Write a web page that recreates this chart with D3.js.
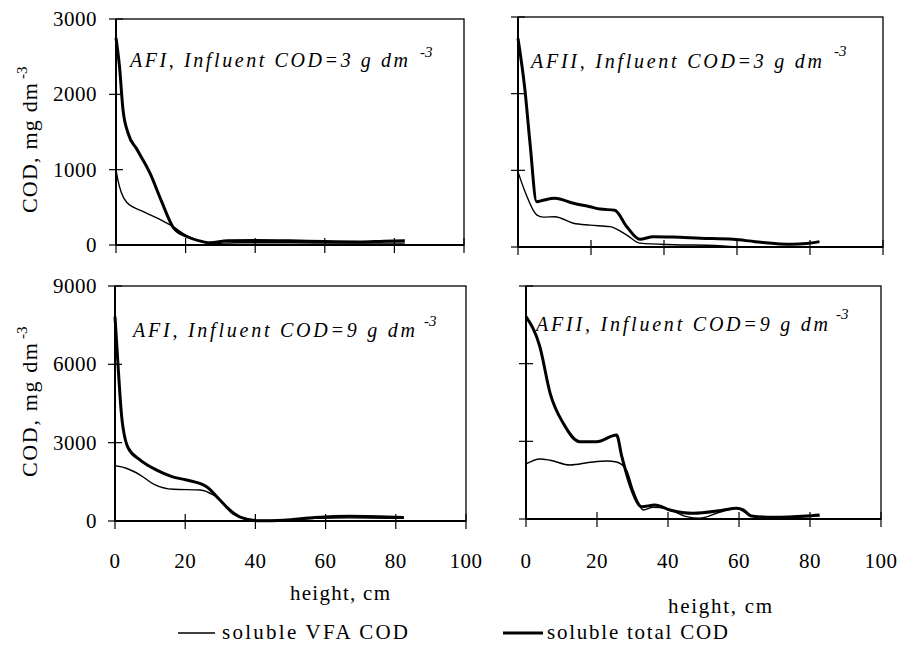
<!DOCTYPE html>
<html>
<head>
<meta charset="utf-8">
<script src="https://cdn.jsdelivr.net/npm/d3@7"></script>
<style>
  body { margin: 0; background: #fff; }
</style>
</head>
<body>
<div id="chart"></div>
<script>
const width = 901;
const height = 648;

// pick the first serif face that is actually installed
function pickSerif() {
  const ctx = document.createElement("canvas").getContext("2d");
  const sample = "mmmmmmmmmmlli0123456789WwQ";
  ctx.font = "40px monospace";
  const base = ctx.measureText(sample).width;
  const names = ["Liberation Serif", "DejaVu Serif", "Noto Serif", "Times New Roman", "FreeSerif", "Tinos"];
  for (const n of names) {
    ctx.font = "40px '" + n + "', monospace";
    if (ctx.measureText(sample).width !== base) return "'" + n + "', serif";
  }
  return "serif";
}
const serif = pickSerif();

// heights (cm) and COD values (mg dm-3)
const afi3TotalH = [0, 1, 2, 3.5, 6, 9.8, 13, 16.5, 20, 24, 27, 32, 40, 50, 60, 70, 77, 83];
const afi3Total  = [2750, 2370, 1800, 1480, 1270, 950, 590, 230, 120, 55, 30, 55, 60, 55, 45, 40, 50, 55];
const afi3VfaH   = [0, 0.5, 1.5, 3, 8, 13, 16.5, 20, 24, 27, 35, 50, 65, 83];
const afi3Vfa    = [1000, 870, 700, 570, 440, 330, 240, 130, 55, 20, 30, 30, 25, 25];

const afii3TotalH = [0, 1.9, 3.3, 5.1, 6.9, 10.1, 15.2, 19.7, 22.5, 26.5, 29.8, 33.4, 37, 42.5, 50, 59, 65, 75, 79, 82.6];
const afii3Total  = [2720, 2050, 1350, 590, 610, 635, 570, 525, 495, 480, 265, 100, 135, 130, 115, 100, 70, 35, 45, 70];
const afii3VfaH   = [0, 2.1, 5.1, 7, 10.1, 15.2, 19.7, 25.2, 29.8, 33.4, 42.5, 54, 59, 70, 83];
const afii3Vfa    = [980, 700, 420, 390, 395, 310, 285, 265, 155, 50, 30, 20, 5, 5, 5];

const afi9TotalH = [0, 0.95, 1.9, 3.8, 7.2, 11.9, 16.2, 20.4, 26.1, 29.9, 33.7, 37.5, 41.3, 48, 57, 66.7, 82.3];
const afi9Total  = [7825, 5780, 4000, 2785, 2335, 1950, 1700, 1570, 1315, 805, 295, 65, 10, 30, 130, 180, 130];
const afi9VfaH   = [0, 3.2, 7.2, 11, 16.7, 24.3, 28, 31.9, 35.7, 40.5, 48, 57, 66.7, 82.3];
const afi9Vfa    = [2120, 2020, 1760, 1415, 1215, 1190, 995, 550, 165, 25, 20, 100, 120, 100];

const afii9TotalH = [0, 3.9, 6.8, 10.5, 15.2, 19.9, 25.5, 27, 29.8, 32.6, 36.3, 40.5, 47.1, 55, 59.3, 61.2, 63.5, 69.6, 79, 82.7];
const afii9Total  = [7815, 6655, 4855, 3695, 2985, 2985, 3245, 2405, 1120, 475, 540, 350, 220, 330, 413, 350, 115, 65, 115, 155];
const afii9VfaH   = [0, 3.9, 6.8, 12.4, 18.1, 22.8, 25.5, 28.3, 30.2, 33, 35.8, 39.6, 45.2, 48.9, 54.5, 59.3, 63.5, 69.6, 79, 82.7];
const afii9Vfa    = [2125, 2320, 2270, 2085, 2190, 2240, 2200, 1890, 1120, 350, 455, 400, 90, 30, 260, 415, 115, 30, 90, 120];

const xTicks = [0, 20, 40, 60, 80, 100];
const yTicks3 = [0, 1000, 2000, 3000];
const yTicks9 = [0, 3000, 6000, 9000];
const titles = ["AFI, Influent COD=3 g dm", "AFII, Influent COD=3 g dm", "AFI, Influent COD=9 g dm", "AFII, Influent COD=9 g dm"];
const legendLabels = ["soluble VFA COD", "soluble total COD"];

const panels = [
  { box: [116, 464, 19, 245], ymax: 3000, ticks: yTicks3, yLabels: true, xLabels: false,
    vfa: [afi3VfaH, afi3Vfa], total: [afi3TotalH, afi3Total], title: titles[0],
    titlePos: [130, 67, 278], supPos: [420, 57] },
  { box: [518, 883, 17, 247], ymax: 3000, ticks: yTicks3, yLabels: false, xLabels: false,
    vfa: [afii3VfaH, afii3Vfa], total: [afii3TotalH, afii3Total], title: titles[1],
    titlePos: [531, 68, 291], supPos: [834, 56] },
  { box: [115, 466, 286, 521], ymax: 9000, ticks: yTicks9, yLabels: true, xLabels: true,
    vfa: [afi9VfaH, afi9Vfa], total: [afi9TotalH, afi9Total], title: titles[2],
    titlePos: [133, 337, 282], supPos: [424, 326] },
  { box: [526, 881, 286, 519], ymax: 9000, ticks: yTicks9, yLabels: false, xLabels: true,
    vfa: [afii9VfaH, afii9Vfa], total: [afii9TotalH, afii9Total], title: titles[3],
    titlePos: [536, 331, 292], supPos: [836, 319] }
];

const svg = d3.select("#chart").append("svg")
  .attr("width", width)
  .attr("height", height)
  .style("font-family", serif);

panels.forEach(function(p) {
  const [x0, x1, y0, y1] = p.box;
  const x = d3.scaleLinear().domain([0, 100]).range([x0, x1]);
  const y = d3.scaleLinear().domain([0, p.ymax]).range([y1, y0]);
  const g = svg.append("g");

  // frame
  g.append("rect")
    .attr("x", x0).attr("y", y0)
    .attr("width", x1 - x0).attr("height", y1 - y0)
    .attr("fill", "none").attr("stroke", "#000").attr("stroke-width", 1.3);

  // left and bottom axes are drawn heavier
  g.append("line").attr("x1", x0).attr("x2", x0).attr("y1", y0).attr("y2", y1)
    .attr("stroke", "#000").attr("stroke-width", 2);
  g.append("line").attr("x1", x0).attr("x2", x1).attr("y1", y1).attr("y2", y1)
    .attr("stroke", "#000").attr("stroke-width", 2);

  // y ticks cross the axis
  g.selectAll(".ytick").data(p.ticks).join("line")
    .attr("x1", x0 - 7).attr("x2", x0 + 7)
    .attr("y1", d => y(d)).attr("y2", d => y(d))
    .attr("stroke", "#000").attr("stroke-width", 1.2);

  g.selectAll(".xtick").data(xTicks).join("line")
    .attr("x1", d => x(d)).attr("x2", d => x(d))
    .attr("y1", y1 - 7).attr("y2", y1 + 8)
    .attr("stroke", "#000").attr("stroke-width", 1.2);

  if (p.yLabels) {
    g.selectAll(".ylab").data(p.ticks).join("text")
      .attr("x", 97).attr("y", d => y(d))
      .attr("dy", "0.34em")
      .attr("text-anchor", "end")
      .attr("font-size", 21)
      .attr("letter-spacing", 0.5)
      .text(d => d);
  }

  if (p.xLabels) {
    g.selectAll(".xlab").data(xTicks).join("text")
      .attr("x", d => x(d)).attr("y", 568)
      .attr("text-anchor", "middle")
      .attr("font-size", 21)
      .attr("letter-spacing", 0.5)
      .text(d => d);
  }

  const line = d3.line()
    .x(d => x(d[0]))
    .y(d => y(d[1]))
    .curve(d3.curveMonotoneX);

  g.append("path")
    .datum(d3.zip(p.vfa[0], p.vfa[1]))
    .attr("d", line)
    .attr("fill", "none").attr("stroke", "#000").attr("stroke-width", 1.4);

  g.append("path")
    .datum(d3.zip(p.total[0], p.total[1]))
    .attr("d", line)
    .attr("fill", "none").attr("stroke", "#000").attr("stroke-width", 3)
    .attr("stroke-linejoin", "round");

  // in-plot caption
  g.append("text")
    .attr("x", p.titlePos[0]).attr("y", p.titlePos[1])
    .attr("font-size", 20).attr("font-style", "italic")
    .attr("textLength", p.titlePos[2]).attr("lengthAdjust", "spacing")
    .text(p.title);
  g.append("text")
    .attr("x", p.supPos[0]).attr("y", p.supPos[1])
    .attr("font-size", 15).attr("font-style", "italic")
    .text("-3");
});

// y axis titles
[[213, 130], [477, 134]].forEach(function(t) {
  svg.append("text")
    .attr("transform", "translate(37," + t[0] + ") rotate(-90)")
    .attr("font-size", 22)
    .attr("textLength", t[1]).attr("lengthAdjust", "spacing")
    .text("COD, mg dm");
  svg.append("text")
    .attr("transform", "translate(27," + (t[0] - t[1] - 4) + ") rotate(-90)")
    .attr("font-size", 15)
    .text("-3");
});

// x axis titles
svg.append("text").attr("x", 290).attr("y", 600)
  .attr("font-size", 21).attr("textLength", 100).attr("lengthAdjust", "spacing")
  .text("height, cm");
svg.append("text").attr("x", 668).attr("y", 613)
  .attr("font-size", 21).attr("textLength", 104).attr("lengthAdjust", "spacing")
  .text("height, cm");

// legend
const legend = [
  { label: legendLabels[0], x1: 178, x2: 215, tx: 222, len: 186, w: 1.4 },
  { label: legendLabels[1], x1: 503, x2: 543, tx: 547, len: 181, w: 3 }
];
legend.forEach(function(l) {
  svg.append("line")
    .attr("x1", l.x1).attr("x2", l.x2).attr("y1", 633).attr("y2", 633)
    .attr("stroke", "#000").attr("stroke-width", l.w);
  svg.append("text")
    .attr("x", l.tx).attr("y", 639)
    .attr("font-size", 21)
    .attr("textLength", l.len).attr("lengthAdjust", "spacing")
    .text(l.label);
});
</script>
</body>
</html>
